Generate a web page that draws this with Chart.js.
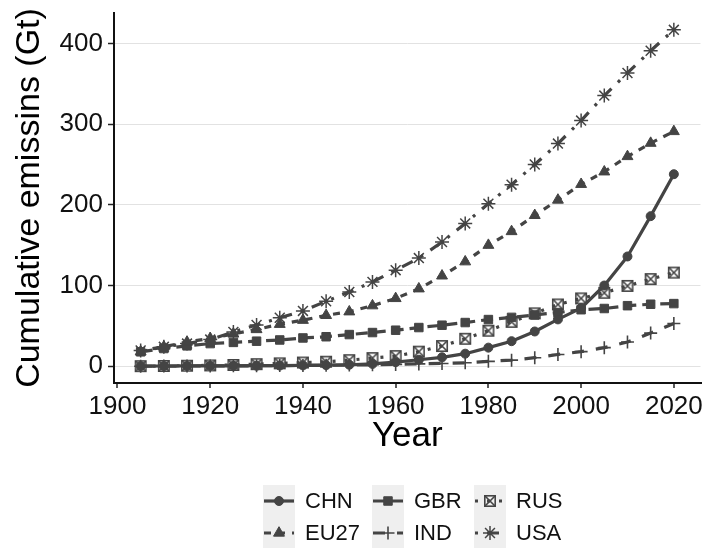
<!DOCTYPE html>
<html>
<head>
<meta charset="utf-8">
<script src="https://cdn.jsdelivr.net/npm/chart.js"></script>
<style>
  body { margin: 0; background: #fff; }
  canvas { display: block; }
</style>
</head>
<body>
<canvas id="grafik" width="709" height="548"></canvas>
<script>
// data (Gt, cumulative)
const years = [1905, 1910, 1915, 1920, 1925, 1930, 1935, 1940, 1945, 1950, 1955, 1960,
               1965, 1970, 1975, 1980, 1985, 1990, 1995, 2000, 2005, 2010, 2015, 2020];
const chn  = [0.1, 0.2, 0.3, 0.4, 0.5, 0.6, 0.8, 1.0, 1.3, 1.8, 2.8, 5, 8, 11, 15.5, 23, 31, 43, 58, 72, 100, 136, 186, 238];
const eu27 = [18, 24, 30, 34.5, 40, 45.5, 52, 57, 63, 67.5, 75, 84, 96, 112, 129.5, 150, 167, 187, 206, 225.5, 241, 260, 276.5, 291];
const gbr  = [17.8, 21.9, 25.2, 28, 29.5, 31, 32.5, 35, 36.5, 39.2, 41.7, 44.6, 47.9, 50.8, 54.1, 57.8, 60.5, 63.5, 66.5, 70, 71.5, 75, 76.8, 77.6];
const ind  = [0, 0.1, 0.2, 0.3, 0.4, 0.5, 0.7, 0.9, 1.1, 1.4, 1.8, 2.2, 2.8, 3.4, 4.2, 6, 7.5, 10.5, 14.5, 18, 23, 30, 41, 53];
const rus  = [0, 0.3, 0.6, 1, 1.5, 2.5, 3.5, 4.5, 5.5, 7.5, 10, 12.5, 18, 25, 34, 44, 55, 65.5, 76.5, 84, 91, 99.5, 108, 116];
const usa  = [19.5, 24, 28, 33, 42.5, 51, 60, 68.5, 80.5, 92, 104.5, 119, 134, 154, 177, 201.5, 225, 250, 276, 304.5, 335.5, 363.5, 391, 417];

const countries = ['CHN', 'EU27', 'GBR', 'IND', 'RUS', 'USA'];
const xTicks = [1900, 1920, 1940, 1960, 1980, 2000, 2020];
const yTicks = [0, 100, 200, 300, 400];

const ink = '#444444';
const font = 'Liberation Sans, Arial, Helvetica, sans-serif';

// square with a cross (ggplot shape 7), no builtin for it
function boxCross() {
  const c = document.createElement('canvas');
  c.width = 14; c.height = 14;
  const g = c.getContext('2d');
  g.strokeStyle = ink;
  g.lineWidth = 1.6;
  g.strokeRect(1.8, 1.8, 10.4, 10.4);
  g.beginPath();
  g.moveTo(1.8, 1.8); g.lineTo(12.2, 12.2);
  g.moveTo(12.2, 1.8); g.lineTo(1.8, 12.2);
  g.stroke();
  return c;
}

function series(label, values, dash, style, radius, bw) {
  return {
    label: label,
    data: years.map((y, i) => ({x: y, y: values[i]})),
    borderColor: ink,
    backgroundColor: ink,
    borderWidth: 3.2,
    borderDash: dash,
    borderCapStyle: 'butt',
    borderJoinStyle: 'round',
    tension: 0,
    pointStyle: style,
    pointRadius: radius,
    pointBorderWidth: bw,
    pointBackgroundColor: ink,
    pointBorderColor: ink,
  };
}

// legend drawn like ggplot: 3 columns, filled column-wise, grey key boxes
const ggLegend = {
  id: 'ggLegend',
  afterDraw(chart) {
    const ctx = chart.ctx;
    const keyX = [263, 372, 474];
    const rowY = [501, 533];
    ctx.save();
    keyX.forEach(kx => {
      ctx.fillStyle = '#efefef';
      ctx.fillRect(kx, rowY[0] - 16, 32, 64);
    });
    chart.data.datasets.forEach((ds, i) => {
      const kx = keyX[Math.floor(i / 2)];
      const ky = rowY[i % 2];
      ctx.strokeStyle = ds.borderColor;
      ctx.fillStyle = ds.borderColor;
      ctx.lineWidth = ds.borderWidth;
      ctx.lineCap = 'butt';
      ctx.setLineDash(ds.borderDash);
      ctx.beginPath();
      ctx.moveTo(kx + 1, ky);
      ctx.lineTo(kx + 31, ky);
      ctx.stroke();
      ctx.setLineDash([]);
      ctx.lineWidth = ds.pointBorderWidth;
      Chart.helpers.drawPoint(ctx, {
        pointStyle: ds.pointStyle,
        radius: ds.pointRadius,
        rotation: 0,
        borderWidth: ds.pointBorderWidth
      }, kx + 16, ky);
      ctx.fillStyle = '#111';
      ctx.font = '22px ' + font;
      ctx.textBaseline = 'middle';
      ctx.textAlign = 'left';
      ctx.fillText(ds.label, kx + 42, ky + 1);
    });
    ctx.restore();
  }
};

new Chart(
  document.getElementById('grafik'),
  {
    type: 'line',
    data: {
      datasets: [
        series(countries[0], chn, [], 'circle', 4.5, 1),
        series(countries[1], eu27, [7, 7], 'triangle', 6.3, 1),
        series(countries[2], gbr, [12, 6], 'rect', 6, 1),
        series(countries[3], ind, [12, 12], 'cross', 6.5, 1.6),
        series(countries[4], rus, [3, 9], boxCross(), 7, 1),
        series(countries[5], usa, [3, 9, 12, 9], 'star', 7, 1.5),
      ]
    },
    options: {
      responsive: false,
      animation: false,
      devicePixelRatio: 1,
      events: [],
      layout: {
        padding: { top: 13, right: 6, bottom: 85, left: 0 }
      },
      plugins: {
        legend: { display: false },
        tooltip: { enabled: false }
      },
      scales: {
        x: {
          type: 'linear',
          min: 1899.25,
          max: 2025.75,
          afterFit: s => { s.height = 80; s.paddingLeft = 0; s.paddingRight = 0; },
          afterBuildTicks: s => { s.ticks = xTicks.map(v => ({value: v})); },
          grid: {
            color: '#ffffff',
            lineWidth: 2,
            tickColor: '#222',
            tickWidth: 1.5,
            tickLength: 5,
          },
          border: { color: '#111', width: 2 },
          ticks: {
            color: '#111',
            padding: 3,
            maxRotation: 0,
            font: { family: font, size: 26 },
            callback: v => String(v)
          },
          title: {
            display: true,
            text: 'Year',
            color: '#000',
            padding: { top: 0, bottom: 6 },
            font: { family: font, size: 35 }
          }
        },
        y: {
          type: 'linear',
          min: -20.85,
          max: 437.85,
          afterFit: s => { s.width = 114; s.paddingTop = 0; s.paddingBottom = 0; },
          afterBuildTicks: s => { s.ticks = yTicks.map(v => ({value: v})); },
          grid: {
            z: -1,
            color: '#e2e2e2',
            lineWidth: 1,
            tickColor: '#222',
            tickWidth: 1.5,
            tickLength: 6,
          },
          border: { color: '#111', width: 2 },
          ticks: {
            color: '#111',
            padding: 5,
            font: { family: font, size: 26 }
          },
          title: {
            display: true,
            text: 'Cumulative emissins (Gt)',
            color: '#000',
            padding: { top: 9, bottom: 0 },
            font: { family: font, size: 34 }
          }
        }
      }
    },
    plugins: [ggLegend]
  }
);
</script>
</body>
</html>
